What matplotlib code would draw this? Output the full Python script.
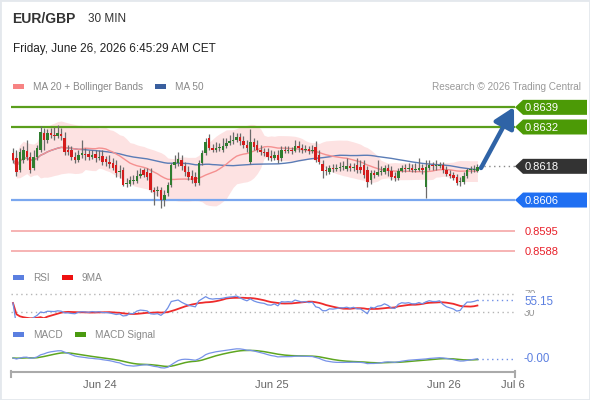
import numpy as np
import pandas as pd
import matplotlib
matplotlib.use("Agg")
import matplotlib.pyplot as plt
from matplotlib.patches import Rectangle, Polygon
from matplotlib.lines import Line2D
from matplotlib.transforms import blended_transform_factory, offset_copy

plt.rcParams['font.family'] = ['Liberation Sans', 'DejaVu Sans']

# ---------------- data ----------------
symbol = "EUR/GBP"
timeframe = "30 MIN"
stamp = "Friday, June 26, 2026 6:45:29 AM CET"

opens = [0.86227, 0.86210, 0.86167, 0.86203, 0.86235, 0.86213, 0.86174, 0.86213, 0.86238, 0.86299, 0.86274, 0.86299,
         0.86292, 0.86288, 0.86295, 0.86281, 0.86238, 0.86238, 0.86213, 0.86203, 0.86220, 0.86224, 0.86224, 0.86213,
         0.86224, 0.86210, 0.86217, 0.86206, 0.86195, 0.86192, 0.86185, 0.86160, 0.86167, 0.86117, 0.86117, 0.86128,
         0.86128, 0.86146, 0.86167, 0.86160, 0.86156, 0.86096, 0.86092, 0.86096, 0.86060, 0.86085, 0.86114, 0.86185,
         0.86192, 0.86203, 0.86181, 0.86160, 0.86146, 0.86142, 0.86121, 0.86192, 0.86227, 0.86281, 0.86245, 0.86238,
         0.86245, 0.86238, 0.86252, 0.86263, 0.86270, 0.86274, 0.86284, 0.86270, 0.86256, 0.86195, 0.86267, 0.86256,
         0.86238, 0.86231, 0.86231, 0.86217, 0.86210, 0.86220, 0.86210, 0.86238, 0.86235, 0.86238, 0.86235, 0.86252,
         0.86245, 0.86238, 0.86242, 0.86235, 0.86249, 0.86220, 0.86188, 0.86167, 0.86160, 0.86174, 0.86171, 0.86174,
         0.86178, 0.86171, 0.86181, 0.86174, 0.86185, 0.86178, 0.86185, 0.86167, 0.86131, 0.86156, 0.86149, 0.86160,
         0.86160, 0.86174, 0.86163, 0.86146, 0.86138, 0.86163, 0.86174, 0.86171, 0.86174, 0.86167, 0.86167, 0.86174,
         0.86106, 0.86174, 0.86185, 0.86181, 0.86181, 0.86185, 0.86167, 0.86153, 0.86149, 0.86142, 0.86124, 0.86124,
         0.86146, 0.86167, 0.86167, 0.86163]
closes = [0.86203, 0.86160, 0.86231, 0.86238, 0.86213, 0.86167, 0.86213, 0.86245, 0.86302, 0.86274, 0.86299, 0.86292,
          0.86288, 0.86299, 0.86288, 0.86231, 0.86231, 0.86213, 0.86203, 0.86220, 0.86227, 0.86220, 0.86213, 0.86220,
          0.86210, 0.86213, 0.86195, 0.86195, 0.86188, 0.86174, 0.86156, 0.86160, 0.86114, 0.86117, 0.86131, 0.86128,
          0.86146, 0.86153, 0.86149, 0.86142, 0.86096, 0.86089, 0.86092, 0.86060, 0.86078, 0.86114, 0.86185, 0.86195,
          0.86206, 0.86181, 0.86160, 0.86142, 0.86131, 0.86121, 0.86192, 0.86227, 0.86267, 0.86245, 0.86238, 0.86245,
          0.86245, 0.86252, 0.86263, 0.86270, 0.86274, 0.86284, 0.86270, 0.86256, 0.86245, 0.86267, 0.86249, 0.86238,
          0.86231, 0.86227, 0.86213, 0.86210, 0.86220, 0.86203, 0.86238, 0.86235, 0.86238, 0.86235, 0.86252, 0.86245,
          0.86238, 0.86242, 0.86235, 0.86238, 0.86203, 0.86195, 0.86163, 0.86163, 0.86174, 0.86171, 0.86174, 0.86178,
          0.86178, 0.86181, 0.86174, 0.86178, 0.86167, 0.86167, 0.86149, 0.86124, 0.86156, 0.86149, 0.86160, 0.86163,
          0.86174, 0.86163, 0.86142, 0.86138, 0.86163, 0.86174, 0.86171, 0.86174, 0.86167, 0.86167, 0.86174, 0.86167,
          0.86178, 0.86185, 0.86181, 0.86181, 0.86185, 0.86167, 0.86153, 0.86146, 0.86138, 0.86121, 0.86124, 0.86146,
          0.86167, 0.86167, 0.86171, 0.86178]
highs = [0.86245, 0.86238, 0.86245, 0.86252, 0.86274, 0.86231, 0.86238, 0.86256, 0.86324, 0.86316, 0.86313, 0.86316,
         0.86320, 0.86327, 0.86316, 0.86302, 0.86256, 0.86252, 0.86231, 0.86238, 0.86274, 0.86245, 0.86238, 0.86238,
         0.86238, 0.86238, 0.86238, 0.86217, 0.86220, 0.86210, 0.86203, 0.86185, 0.86178, 0.86138, 0.86146, 0.86149,
         0.86167, 0.86174, 0.86174, 0.86174, 0.86174, 0.86106, 0.86110, 0.86106, 0.86096, 0.86124, 0.86192, 0.86220,
         0.86231, 0.86220, 0.86195, 0.86181, 0.86167, 0.86160, 0.86203, 0.86238, 0.86281, 0.86295, 0.86259, 0.86267,
         0.86263, 0.86281, 0.86281, 0.86292, 0.86302, 0.86299, 0.86299, 0.86288, 0.86274, 0.86313, 0.86281, 0.86274,
         0.86256, 0.86245, 0.86245, 0.86238, 0.86235, 0.86238, 0.86252, 0.86252, 0.86252, 0.86249, 0.86274, 0.86270,
         0.86259, 0.86256, 0.86252, 0.86256, 0.86270, 0.86238, 0.86203, 0.86181, 0.86185, 0.86188, 0.86188, 0.86195,
         0.86199, 0.86210, 0.86192, 0.86192, 0.86210, 0.86203, 0.86203, 0.86181, 0.86167, 0.86167, 0.86203, 0.86181,
         0.86185, 0.86188, 0.86181, 0.86160, 0.86174, 0.86185, 0.86188, 0.86192, 0.86188, 0.86192, 0.86210, 0.86188,
         0.86203, 0.86203, 0.86195, 0.86203, 0.86195, 0.86195, 0.86181, 0.86167, 0.86160, 0.86153, 0.86142, 0.86160,
         0.86174, 0.86181, 0.86185, 0.86188]
lows = [0.86192, 0.86146, 0.86160, 0.86192, 0.86203, 0.86156, 0.86167, 0.86203, 0.86231, 0.86238, 0.86263, 0.86281,
        0.86274, 0.86281, 0.86274, 0.86220, 0.86220, 0.86203, 0.86192, 0.86195, 0.86210, 0.86203, 0.86203, 0.86206,
        0.86195, 0.86203, 0.86185, 0.86181, 0.86174, 0.86167, 0.86142, 0.86138, 0.86110, 0.86106, 0.86110, 0.86117,
        0.86121, 0.86138, 0.86142, 0.86131, 0.86089, 0.86042, 0.86074, 0.86032, 0.86039, 0.86074, 0.86106, 0.86174,
        0.86181, 0.86167, 0.86146, 0.86131, 0.86121, 0.86110, 0.86114, 0.86185, 0.86220, 0.86238, 0.86231, 0.86231,
        0.86235, 0.86231, 0.86245, 0.86256, 0.86259, 0.86267, 0.86256, 0.86245, 0.86231, 0.86188, 0.86238, 0.86231,
        0.86220, 0.86217, 0.86203, 0.86199, 0.86203, 0.86192, 0.86199, 0.86227, 0.86227, 0.86224, 0.86231, 0.86231,
        0.86227, 0.86231, 0.86224, 0.86227, 0.86195, 0.86188, 0.86138, 0.86149, 0.86153, 0.86160, 0.86163, 0.86163,
        0.86167, 0.86163, 0.86163, 0.86163, 0.86156, 0.86156, 0.86138, 0.86106, 0.86117, 0.86138, 0.86146, 0.86149,
        0.86153, 0.86146, 0.86131, 0.86128, 0.86131, 0.86160, 0.86160, 0.86163, 0.86160, 0.86160, 0.86163, 0.86153,
        0.86067, 0.86167, 0.86167, 0.86167, 0.86174, 0.86156, 0.86146, 0.86138, 0.86131, 0.86114, 0.86110, 0.86117,
        0.86138, 0.86156, 0.86160, 0.86160]

resistance_levels = [0.8639, 0.8632]
last_price = 0.8618
support_level = 0.8606
lower_levels = [0.8595, 0.8588]
level_labels = ["0.8639", "0.8632", "0.8618", "0.8606", "0.8595", "0.8588"]

rsi_bounds = [70, 30]
rsi_label = "55.15"
rsi_label_value = 55.15
macd_label = "-0.00"

tick_labels = ["Jun 24", "Jun 25", "Jun 26", "Jul 6"]
tick_index = [25.3, 75.3, 125.3, 145.3]

# ---------------- indicators ----------------
close = pd.Series(closes)
ma20 = close.rolling(20, min_periods=1).mean()
sd20 = close.rolling(20, min_periods=1).std(ddof=0).fillna(0)
upper = ma20 + 2 * sd20
lower = ma20 - 2 * sd20
ma50 = close.rolling(50, min_periods=1).mean()

delta = close.diff()
gain = delta.clip(lower=0)
loss = -delta.clip(upper=0)
ag = gain.ewm(alpha=1 / 14, adjust=False).mean()
al = loss.ewm(alpha=1 / 14, adjust=False).mean()
rsi = (100 - 100 / (1 + ag / al.replace(0, np.nan))).fillna(50)
rsi_ma = rsi.rolling(9, min_periods=1).mean()

ema12 = close.ewm(span=12, adjust=False).mean()
ema26 = close.ewm(span=26, adjust=False).mean()
macd = ema12 - ema26
signal = macd.ewm(span=9, adjust=False).mean()

# ---------------- layout ----------------
W, H = 590, 400
fig = plt.figure(figsize=(W / 100, H / 100), dpi=100)
fig.patch.set_facecolor('white')


def add_ax(x0, y0, x1, y1):
    a = fig.add_axes([x0 / W, 1 - y1 / H, (x1 - x0) / W, (y1 - y0) / H])
    a.set_axis_off()
    return a


def fy(y):
    return 1 - y / H


n = len(closes)
idx = np.arange(n)
XL, XR = -0.58, 145.93
PIX = 0.0000356  # price per pixel in the main panel

# ---- header ----
fig.text(12 / W, fy(19), symbol, fontsize=10, fontweight='bold', color='#333333', va='center')
fig.text(88 / W, fy(19), timeframe, fontsize=8.5, color='#333333', va='center')
fig.text(13 / W, fy(49), stamp, fontsize=8.5, color='#222222', va='center')


def legend_item(x, y, color, label):
    fig.patches.append(Rectangle((x / W, fy(y + 2.5)), 11 / W, 5 / H, transform=fig.transFigure,
                                 facecolor=color, edgecolor='none'))
    fig.text((x + 20) / W, fy(y + 0.8), label, fontsize=7.2, color='#888888', va='center')


legend_item(13, 86, '#f78383', 'MA 20 + Bollinger Bands')
legend_item(155, 86, '#3a5f9e', 'MA 50')
fig.text(581 / W, fy(86.8), 'Research © 2026 Trading Central', fontsize=7.2, color='#999999',
         va='center', ha='right')

# ---- price panel ----
ax = add_ax(11, 95, 515, 262)
ax.set_xlim(XL, XR)
ax.set_ylim(0.8632 - 135 * PIX, 0.8632 + 32 * PIX)

ax.fill_between(idx, lower, upper, color='#fde2e2', lw=0, zorder=1)
ax.plot(idx, ma50, color='#5a7cb6', lw=1, zorder=2)
ax.plot(idx, ma20, color='#f59090', lw=1, zorder=2)

for lv in resistance_levels:
    ax.axhline(lv, color='#5a9e1c', lw=1.6, zorder=2)
ax.axhline(support_level, color='#7aa7ef', lw=1.6, zorder=2)
for lv in lower_levels:
    ax.axhline(lv, color='#f6b3b3', lw=1.4, zorder=2)

o = np.array(opens)
c = np.array(closes)
hi = np.array(highs)
lo = np.array(lows)
up = c >= o
ax.vlines(idx, lo, hi, color='#6b6b6b', lw=0.9, zorder=3)
body_bottom = np.minimum(o, c)
body_h = np.maximum(np.abs(c - o), 0.000025)
ax.bar(idx, body_h, bottom=body_bottom, width=0.72,
       color=np.where(up, '#2f7d2f', '#d41c1c'), edgecolor='none', zorder=4)

ax.plot([n - 0.5, XR], [last_price, last_price], color='#888888', lw=1, ls=(0, (1, 2.5)), zorder=2)

tb = blended_transform_factory(fig.transFigure, ax.transData)
tb_text = offset_copy(tb, fig=fig, y=-1, units='dots')
half = 7.5 * PIX


def tag(level, text, fc):
    x0, x1, x2 = 515 / W, 523 / W, 587 / W
    poly = Polygon([(x0, level), (x1, level + half), (x2, level + half), (x2, level - half),
                    (x1, level - half)], closed=True, transform=tb, facecolor=fc, edgecolor='none',
                   clip_on=False, zorder=5)
    ax.add_patch(poly)
    ax.text(525 / W, level, text, transform=tb_text, color='white', fontsize=8, va='center',
            ha='left', clip_on=False, zorder=6)


tag(resistance_levels[0], level_labels[0], '#4c9a06')
tag(resistance_levels[1], level_labels[1], '#4c9a06')
tag(last_price, level_labels[2], '#333333')
tag(support_level, level_labels[3], '#1f6ff2')
for lv, lab in zip(lower_levels, level_labels[4:]):
    ax.text(525 / W, lv, lab, transform=tb_text, color='#e8202a', fontsize=8, va='center',
            ha='left', clip_on=False)

ax.annotate('', xy=(514, H - 107), xycoords='figure pixels', xytext=(481, H - 168),
            textcoords='figure pixels',
            arrowprops=dict(arrowstyle='-|>,head_length=0.55,head_width=0.3', lw=3.2,
                            color='#2f63a6', mutation_scale=22, shrinkA=0, shrinkB=0))

# ---- RSI panel ----
legend_item(13, 277, '#5b7fe0', 'RSI')
legend_item(62, 277, '#ee1111', '9MA')
ar = add_ax(11, 285, 515, 318)
ar.set_xlim(XL, XR)
ar.set_ylim(16.67, 90)
for b in rsi_bounds:
    ar.axhline(b, color='#b5b5b5', lw=1, ls=(0, (1, 2.5)))
ar.plot(idx, rsi_ma, color='#ee2b2b', lw=1.3)
ar.plot(idx, rsi, color='#6f8fe6', lw=0.9)
ar.plot([n - 1, XR], [rsi.iloc[-1]] * 2, color='#6f8fe6', lw=1, ls=(0, (1, 2.5)))
tr = offset_copy(blended_transform_factory(fig.transFigure, ar.transData), fig=fig, y=-1,
                 units='dots')
for b in rsi_bounds:
    ar.text(524 / W, b, str(b), transform=tr, color='#999999', fontsize=7.5, va='center',
            clip_on=False)
ar.text(524 / W, rsi_label_value, rsi_label, transform=tr, color='#5b7fe0', fontsize=8.3,
        va='center', clip_on=False,
        bbox=dict(boxstyle='square,pad=0.22', fc='white', ec='none'))

# ---- MACD panel ----
legend_item(13, 334, '#5b7fe0', 'MACD')
legend_item(75, 334, '#4a9a10', 'MACD Signal')
am = add_ax(11, 340, 515, 372)
am.set_xlim(XL, XR)
mx = max(macd.max(), signal.max())
mn = min(macd.min(), signal.min())
k = max(mx / 11, -mn / 10)
am.set_ylim(-14 * k, 18 * k)
am.plot(idx, signal, color='#5ea620', lw=1.1)
am.plot(idx, macd, color='#7893e8', lw=0.9)
am.plot([n - 1, XR], [macd.iloc[-1]] * 2, color='#6f8fe6', lw=1, ls=(0, (1, 2.5)))
tm = offset_copy(blended_transform_factory(fig.transFigure, am.transData), fig=fig, y=-1.5,
                 units='dots')
am.text(524 / W, 0, macd_label, transform=tm, color='#5b7fe0', fontsize=8.3, va='center',
        clip_on=False)

# ---- time axis ----
fig.lines.append(Line2D([11 / W, 515 / W], [fy(372), fy(372)], transform=fig.transFigure,
                        color='#aaaaaa', lw=1.5))
for xp in (11, 515):
    fig.lines.append(Line2D([xp / W, xp / W], [fy(371), fy(377)], transform=fig.transFigure,
                            color='#aaaaaa', lw=1.5))
tt = blended_transform_factory(am.transData, fig.transFigure)
for ti, lab in zip(tick_index, tick_labels):
    am.text(ti, fy(385), lab, transform=tt, ha='center', va='center', fontsize=8,
            color='#666666', clip_on=False)

# border
fig.patches.append(Rectangle((0, 0), 1, 1, transform=fig.transFigure, fill=False,
                             edgecolor='#e4e8ed', lw=2))

fig.savefig('out.png', dpi=100)
